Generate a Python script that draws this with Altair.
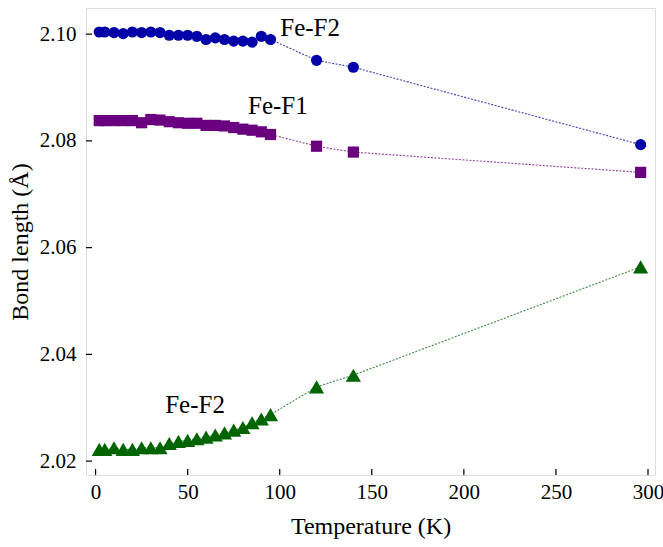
import altair as alt
import pandas as pd

# Temperatures (K)
T = [2, 5, 10, 15, 20, 25, 30, 35, 40, 45, 50, 55, 60, 65, 70, 75, 80, 85, 90, 95, 120, 140, 296]

# Bond lengths (Å)
fe_f2_top = [2.1004, 2.1004, 2.1003, 2.1001, 2.1004, 2.1003, 2.1004, 2.1003, 2.0998, 2.0998,
             2.0998, 2.0996, 2.0990, 2.0993, 2.0990, 2.0987, 2.0987, 2.0985, 2.0996, 2.0990,
             2.0951, 2.0938, 2.0793]
fe_f1 = [2.0838, 2.0838, 2.0838, 2.0838, 2.0838, 2.0834, 2.0840, 2.0839, 2.0836, 2.0834,
         2.0833, 2.0833, 2.0829, 2.0829, 2.0828, 2.0825, 2.0822, 2.0820, 2.0817, 2.0812,
         2.0790, 2.0779, 2.0741]
fe_f2_bot = [2.0222, 2.0222, 2.0225, 2.0222, 2.0222, 2.0225, 2.0225, 2.0225, 2.0233, 2.0237,
             2.0239, 2.0242, 2.0245, 2.0249, 2.0253, 2.0258, 2.0263, 2.0272, 2.0279, 2.0287,
             2.0339, 2.0361, 2.0564]

series_names = ["Fe-F2 (a)", "Fe-F1", "Fe-F2 (b)"]
series_colors = ["#0000a8", "#6a0080", "#006400"]
series_shapes = ["circle", "square", "triangle-up"]

# Annotation labels
label_text = ["Fe-F2", "Fe-F1", "Fe-F2"]
label_T = [116.5, 99.0, 54.0]
label_val = [2.1011, 2.0866, 2.0305]

x_ticks = [0, 50, 100, 150, 200, 250, 300]
y_ticks = [2.02, 2.04, 2.06, 2.08, 2.10]

rows = []
for name, vals in zip(series_names, [fe_f2_top, fe_f1, fe_f2_bot]):
    for t, v in zip(T, vals):
        rows.append({"T": t, "L": v, "series": name})
df = pd.DataFrame(rows)

labels_df = pd.DataFrame({"text": label_text, "T": label_T, "L": label_val})
xt_df = pd.DataFrame({"T": x_ticks})
yt_df = pd.DataFrame({"L": y_ticks})

FONT = "Liberation Serif"
W, H = 569, 467

xscale = alt.Scale(domain=[-5.2, 303.8], nice=False, zero=False)
yscale = alt.Scale(domain=[2.0174, 2.1049], nice=False, zero=False)

color = alt.Color("series:N", scale=alt.Scale(domain=series_names, range=series_colors), legend=None)
shape = alt.Shape("series:N", scale=alt.Scale(domain=series_names, range=series_shapes), legend=None)

x_enc = alt.X("T:Q", scale=xscale,
              axis=alt.Axis(values=x_ticks, title="Temperature (K)", grid=False, domain=False,
                            tickSize=0, labelPadding=6, labelFont=FONT, labelFontSize=21,
                            labelColor="black", titleFont=FONT, titleFontSize=24,
                            titleFontWeight="normal", titleColor="black", titlePadding=12))
y_enc = alt.Y("L:Q", scale=yscale,
              axis=alt.Axis(values=y_ticks, format=".2f", title="Bond length (Å)", grid=False,
                            domain=False, tickSize=0, labelPadding=10, labelFont=FONT,
                            labelFontSize=21, labelColor="black", titleFont=FONT,
                            titleFontSize=24, titleFontWeight="normal", titleColor="black",
                            titlePadding=7))

base = alt.Chart(df)

lines = base.mark_line(strokeDash=[2, 1.5], strokeWidth=1.1, opacity=0.75).encode(
    x=x_enc, y=y_enc, color=color, detail="series:N")

points_cs = base.transform_filter(
    alt.datum.series != series_names[2]
).mark_point(filled=True, opacity=1, size=125).encode(
    x="T:Q", y="L:Q", color=color, shape=shape)

points_tri = base.transform_filter(
    alt.datum.series == series_names[2]
).mark_point(filled=True, opacity=1, size=230).encode(
    x="T:Q", y="L:Q", color=color, shape=shape)

texts = alt.Chart(labels_df).mark_text(font=FONT, fontSize=25, color="black").encode(
    x="T:Q", y="L:Q", text="text:N")

xticks = alt.Chart(xt_df).mark_rule(color="black", strokeWidth=1.2).encode(
    x="T:Q", y=alt.value(H), y2=alt.value(H - 6))
yticks = alt.Chart(yt_df).mark_rule(color="black", strokeWidth=1.2).encode(
    y="L:Q", x=alt.value(0), x2=alt.value(6))

chart = alt.layer(lines, points_cs, points_tri, texts, xticks, yticks).properties(
    width=W, height=H,
    autosize=alt.AutoSizeParams(type="none"),
    padding={"left": 86, "top": 8, "right": 8, "bottom": 72},
).configure_view(stroke="black", strokeWidth=1.5).configure(background="white")

chart.save("out.html", embed_options={"renderer": "svg", "actions": False})
